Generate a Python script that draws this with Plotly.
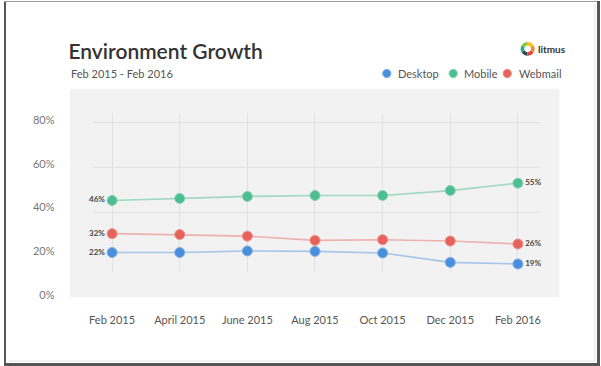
import plotly.graph_objects as go

W, H = 601, 366

categories = ["Feb 2015", "April 2015", "June 2015", "Aug 2015", "Oct 2015", "Dec 2015", "Feb 2016"]
desktop = [22.0, 22.0, 22.7, 22.5, 21.8, 17.6, 16.9]
mobile = [45.2, 46.1, 47.0, 47.4, 47.4, 49.6, 52.9]
webmail = [30.4, 30.0, 29.3, 27.4, 27.7, 27.1, 25.8]
desktop_labels = ["22%", "", "", "", "", "", "19%"]
mobile_labels = ["46%", "", "", "", "", "", "55%"]
webmail_labels = ["32%", "", "", "", "", "", "26%"]
series_names = ["Desktop", "Mobile", "Webmail"]
y_tick_values = [0, 20, 40, 60, 80]
y_tick_text = ["0%", "20%", "40%", "60%", "80%"]
y_grid_values = [40, 60, 80]

FONT = "Lato"
colors = {"Desktop": "#4a8fdb", "Mobile": "#4dbd94", "Webmail": "#e8625c"}
line_colors = {"Desktop": "rgba(74,143,219,0.45)", "Mobile": "rgba(77,189,148,0.5)",
               "Webmail": "rgba(232,98,92,0.45)"}
ring_colors = {"Desktop": "#7fb1e6", "Mobile": "#86d3b6", "Webmail": "#ee8f8a"}


def fx(px):
    return px / W


def fy(py):
    return (H - py) / H


fig = go.Figure()

data = {"Desktop": (desktop, desktop_labels), "Mobile": (mobile, mobile_labels),
        "Webmail": (webmail, webmail_labels)}
n = len(categories)
positions = ["middle left"] + ["middle center"] * (n - 2) + ["middle right"]
for name in series_names:
    vals, labs = data[name]
    fig.add_trace(go.Scatter(
        x=categories, y=vals, mode="lines+markers+text", text=labs,
        textposition=positions,
        textfont=dict(family=FONT, size=8, color="#444", weight="bold"),
        line=dict(color=line_colors[name], width=1.6),
        marker=dict(size=10, color=colors[name], line=dict(color=ring_colors[name], width=1)),
        cliponaxis=False, showlegend=False, name=name, hoverinfo="skip"))

# helper trace for the y tick label axis (own invisible x axis, no grid)
fig.add_trace(go.Scatter(x=[None], y=[None], yaxis="y2", xaxis="x2", showlegend=False,
                         hoverinfo="skip", mode="markers"))

# litmus logo ring
logo_colors = ["#f6c21c", "#8cc63f", "#2fa98c", "#34495e", "#e2403a", "#f5892b"]
fig.add_trace(go.Pie(values=[1] * len(logo_colors), marker=dict(colors=logo_colors),
                     hole=0.5, textinfo="none", hoverinfo="skip", sort=False,
                     showlegend=False, domain=dict(x=[fx(521), fx(535)], y=[fy(55), fy(41)])))

shapes = [
    dict(type="rect", xref="paper", yref="paper", x0=fx(66.5), x1=fx(560), y0=fy(297), y1=fy(88),
         fillcolor="#f2f2f2", line=dict(width=0), layer="below"),
    # frame
    dict(type="line", xref="paper", yref="paper", x0=fx(1), x1=fx(1), y0=0, y1=1,
         line=dict(color="#555", width=2)),
    dict(type="line", xref="paper", yref="paper", x0=0, x1=1, y0=fy(0.5), y1=fy(0.5),
         line=dict(color="#999", width=1)),
    dict(type="line", xref="paper", yref="paper", x0=fx(599.5), x1=fx(599.5), y0=0, y1=1,
         line=dict(color="#555", width=3)),
    dict(type="line", xref="paper", yref="paper", x0=0, x1=1, y0=fy(364.5), y1=fy(364.5),
         line=dict(color="#555", width=3)),
    dict(type="line", xref="paper", yref="paper", x0=fx(5), x1=fx(596), y0=fy(361), y1=fy(361),
         line=dict(color="#e2e2e2", width=1)),
    dict(type="line", xref="paper", yref="paper", x0=fx(596), x1=fx(596), y0=fy(361), y1=fy(3),
         line=dict(color="#e2e2e2", width=1)),
]

annotations = [
    dict(text="Feb 2015 - Feb 2016", xref="paper", yref="paper", x=fx(65.5), y=fy(73),
         xanchor="left", yanchor="middle", showarrow=False,
         font=dict(family=FONT, size=11, color="#555")),
    dict(text="litmus", xref="paper", yref="paper", x=fx(536.5), y=fy(48),
         xanchor="left", yanchor="middle", showarrow=False,
         font=dict(family=FONT, size=10, color="#333", weight="bold")),
]

legend_dot_x = [386, 453, 507.5]
legend_text_x = [395.5, 462, 517]
for i, name in enumerate(series_names):
    cx, cy, r = legend_dot_x[i], 72.7, 4.2
    shapes.append(dict(type="circle", xref="paper", yref="paper", x0=fx(cx - r), x1=fx(cx + r),
                       y0=fy(cy + r), y1=fy(cy - r), fillcolor=colors[name],
                       line=dict(color=ring_colors[name], width=1)))
    annotations.append(dict(text=name, xref="paper", yref="paper", x=fx(legend_text_x[i]),
                            y=fy(cy), xanchor="left", yanchor="middle", showarrow=False,
                            font=dict(family=FONT, size=11, color="#555")))

# y mapping of the main axis: 0% at 301.7px, 2.25px per %
y_lo = (301.7 - 272) / 2.25
y_hi = (301.7 - 112) / 2.25
# tick label axis: 0% at 294.8px, 2.195px per %
t_lo, t_hi = -3, 83
t_p0 = 294.8 - 2.195 * t_lo
t_p1 = 294.8 - 2.195 * t_hi

fig.update_layout(
    width=W, height=H,
    margin=dict(l=0, r=0, t=0, b=0),
    paper_bgcolor="white", plot_bgcolor="rgba(0,0,0,0)",
    title=dict(text="Environment Growth", x=fx(65), y=fy(51), xref="paper", yref="paper",
               xanchor="left", yanchor="middle",
               font=dict(family=FONT, size=21, color="#333", weight=600)),
    xaxis=dict(domain=[fx(90), fx(540)], type="category", range=[(90 - 109) / 68.2, (540 - 109) / 68.2],
               showgrid=True, gridcolor="#e2e2e2", gridwidth=1, zeroline=False, showline=False,
               ticks="", anchor="free", position=fy(312),
               tickfont=dict(family=FONT, size=11, color="#555")),
    yaxis=dict(domain=[fy(272), fy(112)], range=[y_lo, y_hi], tickvals=y_grid_values,
               showticklabels=False, showgrid=True, gridcolor="#e2e2e2", gridwidth=1,
               zeroline=False, showline=False, ticks=""),
    xaxis2=dict(domain=[fx(90), fx(540)], visible=False, showgrid=False, zeroline=False,
                anchor="y2", range=[0, 1]),
    yaxis2=dict(domain=[fy(t_p0), fy(t_p1)], range=[t_lo, t_hi], tickvals=y_tick_values,
                ticktext=y_tick_text, anchor="free", position=fx(51), side="left",
                showgrid=False, zeroline=False, showline=False, ticks="",
                tickfont=dict(family=FONT, size=11, color="#777")),
    shapes=shapes,
    annotations=annotations,
    hovermode=False,
)

fig.write_html("out.html", config={"displayModeBar": False},
               post_script="document.body.style.margin='0';document.body.style.overflow='hidden';")
